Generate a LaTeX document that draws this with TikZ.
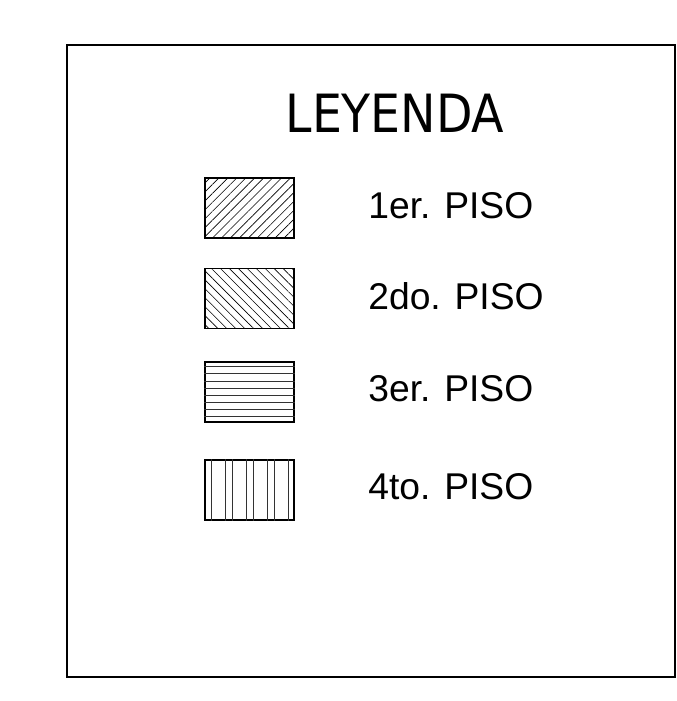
\documentclass[tikz,border=0pt]{standalone}
\usepackage{fontspec}
\setmainfont{Liberation Sans}
\newfontfamily\titlefont{DejaVu Sans Condensed}
\usepackage{tikz}
\usetikzlibrary{calc,patterns.meta}

\begin{document}
\begin{tikzpicture}[
    x=0.02cm, y=-0.02cm,
    frame/.style={line width=1.1pt, draw=black},
    swatch/.style={draw=black, line width=0.85pt, minimum width=1.78cm, minimum height=1.2cm, inner sep=0pt},
    hatch/.style={line width=0.35pt, draw=black!80},
    label/.style={anchor=base west, inner sep=0pt, font=\fontsize{21.2}{24}\selectfont}
]
    \useasboundingbox (0,0) rectangle (677,701);
    \draw[frame] (67,45) rectangle (675,677);

    \node[anchor=base, inner sep=0pt, font=\titlefont\fontsize{30}{34}\selectfont] (title) at (395,132) {LEYENDA};

    % swatches
    \node[swatch, pattern={Lines[angle=45,distance=3.6pt,line width=0.35pt]}] (sw1) at (249.5,208) {};
    \node[swatch, pattern={Lines[angle=-45,distance=3.6pt,line width=0.35pt]}] (sw2) at (249.5,298.5) {};
    \node[swatch] (sw3) at (249.5,392) {};
    \foreach \d in {5.3,12.3,19.7,26.7,33.7,40.7,47.7,54.7}
        \draw[hatch] ($(sw3.north west)+(0,\d)$) -- ($(sw3.north east)+(0,\d)$);
    \node[swatch] (sw4) at (249.5,490) {};
    \foreach \d in {7.5,21.5,28,42.5,49,63.5,70,84}
        \draw[hatch] ($(sw4.north west)+(\d,0)$) -- ($(sw4.south west)+(\d,0)$);

    % labels
    \node[label] (lbl1) at (368,218) {1er. PISO};
    \node[label] (lbl2) at (368,309) {2do. PISO};
    \node[label] (lbl3) at (368,401) {3er. PISO};
    \node[label] (lbl4) at (368,499) {4to. PISO};
\end{tikzpicture}
\end{document}
